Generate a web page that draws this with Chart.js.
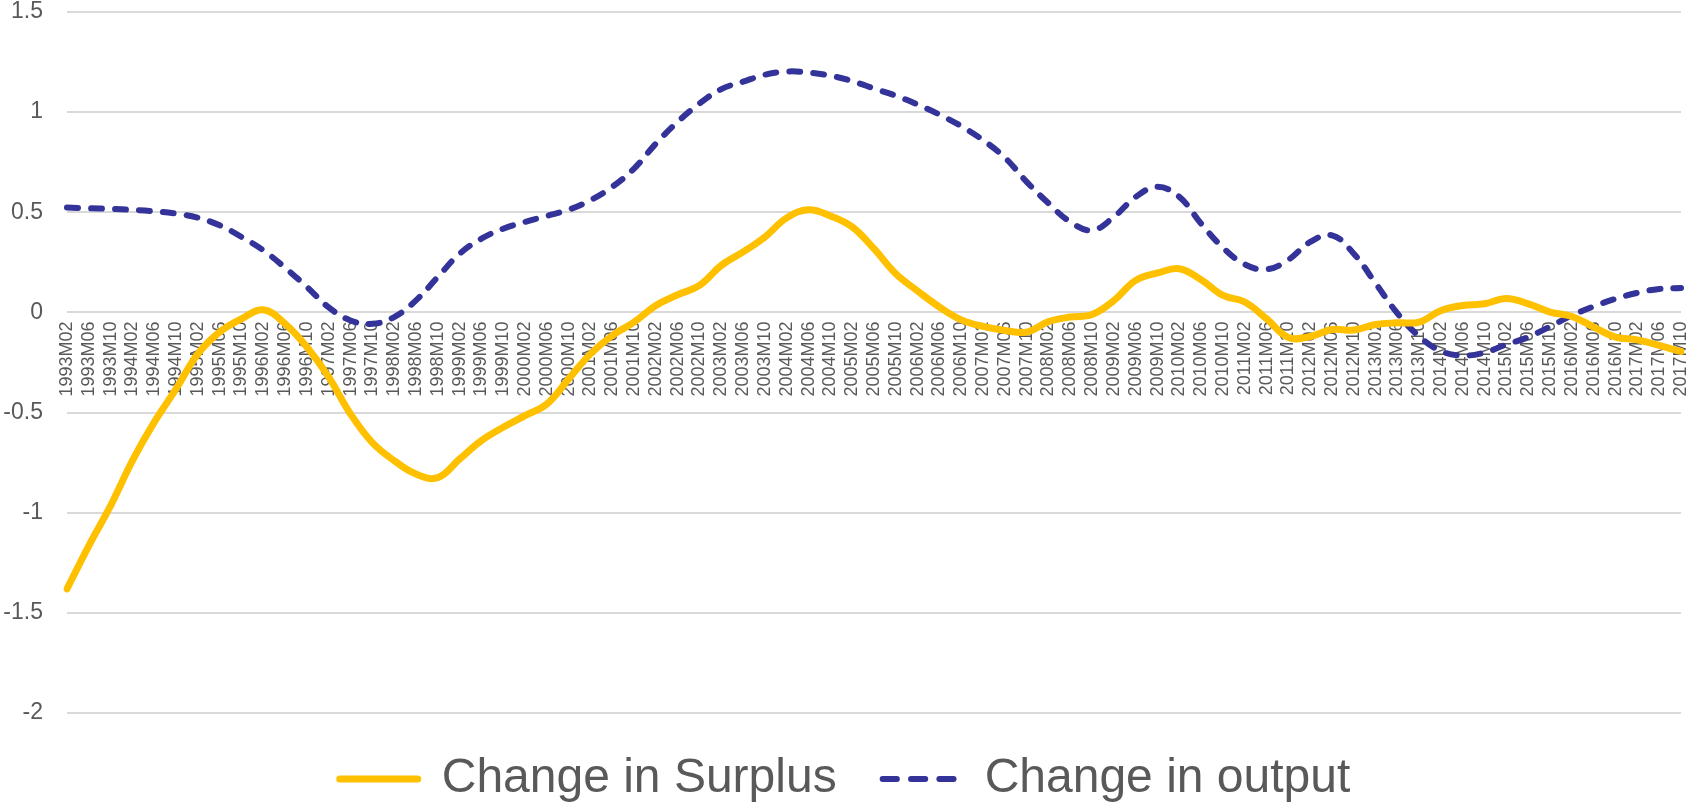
<!DOCTYPE html>
<html>
<head>
<meta charset="utf-8">
<script src="https://cdn.jsdelivr.net/npm/chart.js@4.4.1/dist/chart.umd.min.js"></script>
<style>
  html, body { margin: 0; padding: 0; background: #ffffff; }
  #wrap { width: 1690px; height: 807px; }
</style>
</head>
<body>
<div id="wrap"><canvas id="c" width="1690" height="807"></canvas></div>
<script>
const categories = [
  '1993M02','1993M06','1993M10','1994M02','1994M06','1994M10','1995M02','1995M06','1995M10',
  '1996M02','1996M06','1996M10','1997M02','1997M06','1997M10','1998M02','1998M06','1998M10',
  '1999M02','1999M06','1999M10','2000M02','2000M06','2000M10','2001M02','2001M06','2001M10',
  '2002M02','2002M06','2002M10','2003M02','2003M06','2003M10','2004M02','2004M06','2004M10',
  '2005M02','2005M06','2005M10','2006M02','2006M06','2006M10','2007M02','2007M06','2007M10',
  '2008M02','2008M06','2008M10','2009M02','2009M06','2009M10','2010M02','2010M06','2010M10',
  '2011M02','2011M06','2011M10','2012M02','2012M06','2012M10','2013M02','2013M06','2013M10',
  '2014M02','2014M06','2014M10','2015M02','2015M06','2015M10','2016M02','2016M06','2016M10',
  '2017M02','2017M06','2017M10'
];

const surplus = [
  -1.38, -1.165, -0.965, -0.74, -0.548, -0.382, -0.207, -0.098, -0.032,
  0.013, -0.057, -0.173, -0.323, -0.507, -0.65, -0.74, -0.807, -0.825,
  -0.732, -0.64, -0.573, -0.515, -0.457, -0.332, -0.207, -0.115, -0.048,
  0.035, 0.088, 0.135, 0.235, 0.302, 0.377, 0.472, 0.513, 0.482,
  0.427, 0.318, 0.193, 0.107, 0.027, -0.037, -0.07, -0.09, -0.098,
  -0.046, -0.023, -0.01, 0.06, 0.16, 0.197, 0.218, 0.163, 0.085,
  0.052, -0.032, -0.125, -0.12, -0.085, -0.088, -0.06, -0.052, -0.048,
  0.01, 0.035, 0.043, 0.07, 0.043, 0.002, -0.02, -0.073, -0.123,
  -0.137, -0.165, -0.195
];

const output = [
  0.524, 0.52, 0.517, 0.512, 0.505, 0.493, 0.473, 0.435, 0.377,
  0.31, 0.223, 0.127, 0.025, -0.04, -0.057, -0.023, 0.06, 0.177,
  0.293, 0.368, 0.418, 0.452, 0.482, 0.513, 0.56, 0.627, 0.718,
  0.843, 0.952, 1.043, 1.115, 1.152, 1.187, 1.203, 1.198, 1.182,
  1.155, 1.118, 1.082, 1.038, 0.988, 0.93, 0.86, 0.773, 0.652,
  0.545, 0.452, 0.41, 0.477, 0.577, 0.627, 0.577, 0.443, 0.323,
  0.24, 0.215, 0.263, 0.352, 0.385, 0.293, 0.145, -0.005, -0.12,
  -0.193, -0.215, -0.2, -0.16, -0.123, -0.07, -0.015, 0.03, 0.068,
  0.098, 0.117, 0.122
];

const seriesNames = ['Change in Surplus', 'Change in output'];
const yTickLabels = ['-2', '-1.5', '-1', '-0.5', '0', '0.5', '1', '1.5'];
const yMin = -2, yMax = 1.5, yStep = 0.5;

const FONT = "'Liberation Sans', Arial, sans-serif";
const TEXT = '#595959';

new Chart(document.getElementById('c'), {
  type: 'line',
  data: {
    labels: categories,
    datasets: [
      {
        label: seriesNames[0],
        data: surplus,
        borderColor: '#FFC000',
        backgroundColor: '#FFC000',
        borderWidth: 7,
        pointRadius: 0,
        pointHoverRadius: 0,
        tension: 0.4,
        borderCapStyle: 'round',
        borderJoinStyle: 'round',
        fill: false
      },
      {
        label: seriesNames[1],
        data: output,
        borderColor: '#333399',
        backgroundColor: '#333399',
        borderWidth: 6,
        borderDash: [11, 13],
        pointRadius: 0,
        pointHoverRadius: 0,
        tension: 0.4,
        borderCapStyle: 'round',
        borderJoinStyle: 'round',
        fill: false
      }
    ]
  },
  options: {
    responsive: false,
    animation: false,
    devicePixelRatio: 1,
    layout: { padding: { top: 0, right: 0, bottom: -6, left: 0 } },
    scales: {
      x: {
        type: 'category',
        position: { y: 0 },
        offset: false,
        grid: { display: false, drawTicks: false },
        border: { display: false },
        ticks: {
          autoSkip: false,
          maxRotation: 90,
          minRotation: 90,
          padding: 9,
          color: TEXT,
          font: { family: FONT, size: 18 }
        },
        afterFit(scale) { scale.paddingLeft = 0; scale.paddingRight = 9; }
      },
      y: {
        min: yMin,
        max: yMax,
        grid: { color: '#D9D9D9', lineWidth: 2, drawTicks: false },
        border: { display: false },
        ticks: {
          stepSize: yStep,
          padding: 24,
          color: TEXT,
          font: { family: FONT, size: 23 },
          callback: (value, index) => yTickLabels[index]
        },
        afterFit(scale) { scale.width = 67; scale.paddingTop = 12; scale.paddingBottom = 12; }
      }
    },
    plugins: {
      tooltip: { enabled: false },
      legend: {
        position: 'bottom',
        title: { display: true, text: '', font: { size: 12, lineHeight: 0 }, padding: { top: -4, bottom: 0 } },
        labels: {
          color: TEXT,
          font: { family: FONT, size: 48 },
          boxWidth: 78,
          boxHeight: 0,
          padding: 46,
          generateLabels(chart) {
            const items = Chart.defaults.plugins.legend.labels.generateLabels(chart);
            items.forEach(it => {
              if (it.datasetIndex === 1) { it.lineDash = [14.18, 14.18]; }
            });
            return items;
          }
        }
      }
    }
  }
});
</script>
</body>
</html>
